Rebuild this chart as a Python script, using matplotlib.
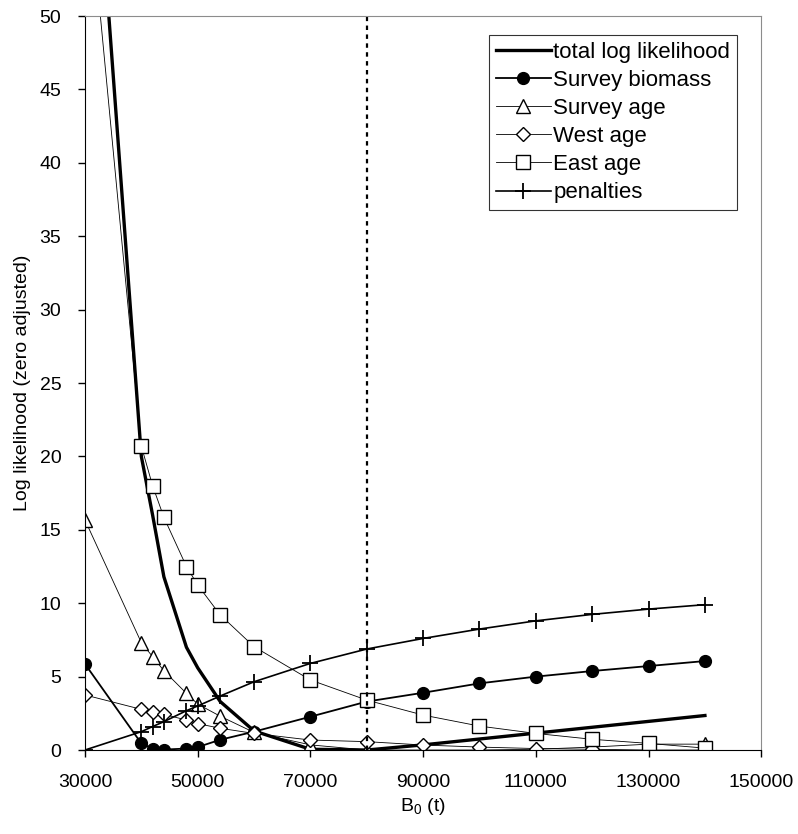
import matplotlib
matplotlib.use("Agg")
import matplotlib.pyplot as plt

plt.rcParams['font.family'] = ['Liberation Sans', 'DejaVu Sans']
plt.rcParams['mathtext.default'] = 'regular'

# B0 values (t)
b0 = [30000, 40000, 42000, 44000, 48000, 50000, 54000, 60000, 70000,
      80000, 90000, 100000, 110000, 120000, 130000, 140000]

# zero adjusted log likelihood components
total = [72.0, 20.0, 16.0, 11.8, 7.0, 5.6, 3.3, 1.3, 0.05,
         0.0, 0.35, 0.75, 1.15, 1.55, 1.95, 2.35]
survey_biomass = [5.86, 0.45, 0.1, 0.03, 0.1, 0.2, 0.7, 1.25, 2.27,
                  3.3, 3.9, 4.54, 5.0, 5.38, 5.72, 6.06]
survey_age = [15.67, 7.31, 6.36, 5.4, 3.86, 3.13, 2.3, 1.2, 0.35,
              0.0, 0.0, 0.0, 0.05, 0.2, 0.4, 0.4]
west_age = [3.75, 2.77, 2.61, 2.43, 2.04, 1.8, 1.48, 1.13, 0.68,
            0.57, 0.34, 0.2, 0.1, 0.05, 0.0, 0.0]
east_age = [61.0, 20.7, 18.0, 15.85, 12.5, 11.24, 9.2, 7.04, 4.77,
            3.4, 2.38, 1.63, 1.13, 0.73, 0.45, 0.13]
penalties = [0.0, 1.25, 1.6, 1.93, 2.68, 3.0, 3.68, 4.65, 5.9,
             6.88, 7.6, 8.24, 8.8, 9.24, 9.6, 9.9]

fig = plt.figure(figsize=(7.98, 8.34), dpi=100)
ax = fig.add_axes([0.1065, 0.1007, 0.8475, 0.8801])

ax.plot(b0, total, color='black', lw=2.4, label='total log likelihood',
        solid_joinstyle='round')
ax.plot(b0, survey_biomass, color='black', lw=1.3, marker='o', ms=8.5,
        mfc='black', mec='black', label='Survey biomass')
ax.plot(b0, survey_age, color='black', lw=0.6, marker='^', ms=10,
        mfc='white', mec='black', mew=1.0, label='Survey age')
ax.plot(b0, west_age, color='black', lw=0.6, marker='D', ms=7,
        mfc='white', mec='black', mew=1.0, label='West age')
ax.plot(b0, east_age, color='black', lw=0.6, marker='s', ms=9.5,
        mfc='white', mec='black', mew=1.0, label='East age')
ax.plot(b0, penalties, color='black', lw=1.2, marker='+', ms=12,
        mew=1.3, label='penalties')

ax.axvline(80000, color='black', lw=1.6, ls=(0, (2, 2)))

ax.set_xlim(30000, 150000)
ax.set_ylim(0, 50)
ax.set_xticks(range(30000, 150001, 20000))
ax.set_yticks(range(0, 51, 5))
ax.tick_params(labelsize=14, direction='out', length=5, width=1)
ax.tick_params(axis='x', pad=12)
ax.tick_params(axis='y', pad=12)

for side in ['top', 'right']:
    ax.spines[side].set_color('#8c8c8c')
for side in ['left', 'bottom']:
    ax.spines[side].set_color('black')

ax.set_xlabel('B$_0$ (t)', fontsize=14, labelpad=4)
ax.set_ylabel('Log likelihood (zero adjusted)', fontsize=14, labelpad=6)

leg = ax.legend(loc='upper right', bbox_to_anchor=(0.964, 0.974),
                borderaxespad=0, fontsize=16, frameon=True, fancybox=False,
                handlelength=2.5, handletextpad=0.1, labelspacing=0.32,
                borderpad=0.3, edgecolor='black')
leg.get_frame().set_linewidth(0.8)

fig.savefig('out.png', dpi=100)
